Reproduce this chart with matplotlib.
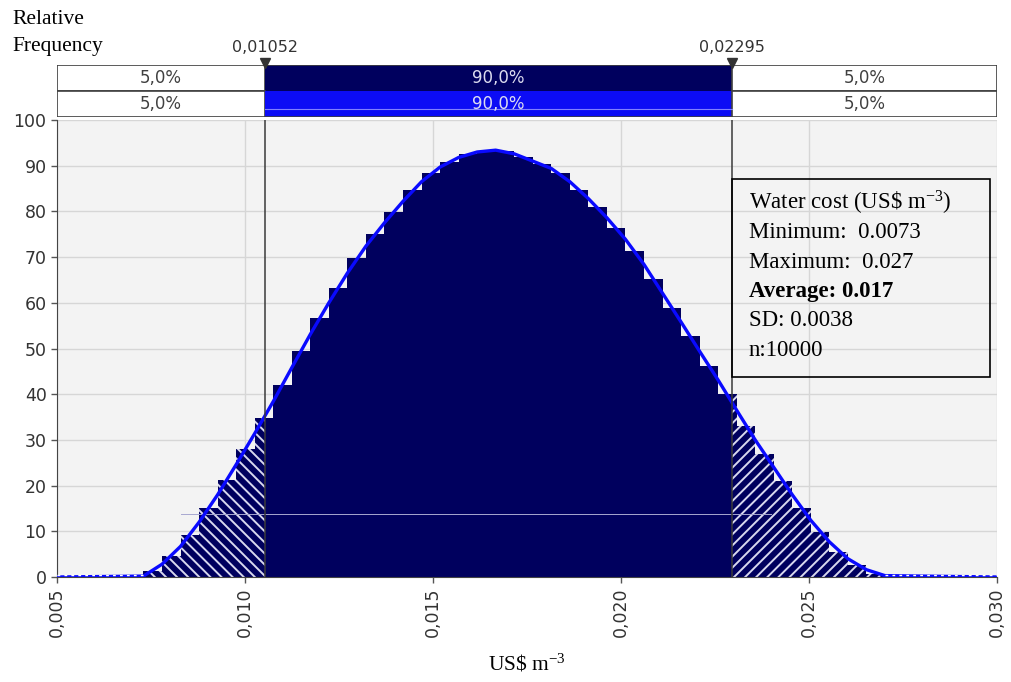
import numpy as np
import matplotlib
matplotlib.use("Agg")
import matplotlib.pyplot as plt
from matplotlib.patches import Rectangle

# histogram of simulated water cost, 40 bins
bin_start = 0.0073
bin_width = 0.000493
rel_freq = [1.3, 4.6, 9.1, 15.0, 21.2, 28.0, 34.8, 42.0, 49.5, 56.7,
            63.3, 69.7, 75.0, 79.8, 84.6, 88.4, 90.8, 92.5, 93.3, 93.2,
            91.8, 90.4, 88.4, 84.6, 80.9, 76.3, 71.4, 65.3, 58.9, 52.7,
            46.2, 40.0, 33.0, 27.0, 20.9, 15.0, 9.9, 5.5, 2.6, 0.7]

# fitted density, sampled at the bin edges
fit_edges = [0.2, 2.8, 6.7, 12.0, 18.0, 24.6, 31.4, 38.4, 45.8, 53.1,
             60.0, 66.5, 72.4, 77.5, 82.2, 86.5, 89.7, 91.8, 93.0, 93.4,
             92.6, 91.0, 89.4, 86.5, 82.8, 78.6, 73.9, 68.4, 62.1, 55.8,
             49.4, 43.1, 36.5, 30.0, 24.0, 18.0, 12.4, 7.7, 4.0, 1.6, 0.3]

x_min, x_max = 0.005, 0.030
p5, p95 = 0.01052, 0.02295
p5_label, p95_label = "0,01052", "0,02295"
band_text = ["5,0%", "90,0%", "5,0%"]
xticks = [0.005, 0.010, 0.015, 0.020, 0.025, 0.030]
xtick_labels = ["0,005", "0,010", "0,015", "0,020", "0,025", "0,030"]
yticks = list(range(0, 101, 10))
stats = ["Water cost (US\\$ m$^{-3}$)", "Minimum:  0.0073", "Maximum:  0.027",
         "Average: 0.017", "SD: 0.0038", "n:10000"]

navy = "#00005e"
tick_col = "#333333"
serif = "Liberation Serif"

plt.rcParams["hatch.linewidth"] = 1.4
plt.rcParams["mathtext.fontset"] = "custom"
plt.rcParams["mathtext.rm"] = serif
plt.rcParams["mathtext.it"] = serif + ":italic"
plt.rcParams["mathtext.bf"] = serif + ":bold"
plt.rcParams["mathtext.default"] = "rm"

W, H = 1011, 682
fig = plt.figure(figsize=(W / 100, H / 100), dpi=100)
ax = fig.add_axes([57 / W, 1 - 577 / H, 940 / W, 457 / H])
ax.set_facecolor("#f3f3f3")
ax.set_xlim(x_min, x_max)
ax.set_ylim(0, 100)

# bars, split at the 5% / 95% marks
edges = bin_start + bin_width * np.arange(len(rel_freq) + 1)
regions = [(x_min, p5, dict(color=navy, hatch="\\\\\\", edgecolor="#d8d8ee", linewidth=0)),
           (p5, p95, dict(color=navy, linewidth=0)),
           (p95, x_max, dict(color=navy, hatch="///", edgecolor="#d8d8ee", linewidth=0))]
for lo, hi, style in regions:
    for i, h in enumerate(rel_freq):
        left = max(edges[i], lo)
        right = min(edges[i + 1], hi)
        if right > left:
            ax.bar(left, h, width=right - left, align="edge", zorder=2, **style)

# fitted curve
cx = np.concatenate([[x_min], edges, [x_max]])
cy = np.concatenate([[0], fit_edges, [0]])
ax.plot(cx, cy, color="#0a0aff", lw=2.4, zorder=4, solid_capstyle="round")
for a, b in [(x_min, edges[0]), (edges[-1], x_max)]:
    ax.plot([a, b], [0.4, 0.4], color="white", lw=1, ls=(0, (2, 3)), zorder=5)

ax.plot([0.0083, 0.0240], [13.8, 13.8], color="#a8a8d0", lw=0.7, zorder=3)

# percentile lines
for xv in (p5, p95):
    ax.axvline(xv, color="#3a3a3a", lw=1.1, zorder=6)

ax.set_xticks(xticks)
ax.set_xticklabels(xtick_labels, rotation=90)
ax.set_yticks(yticks)
ax.tick_params(axis="both", colors="#555555", labelcolor=tick_col, labelsize=12.5,
               length=4, width=1)
ax.grid(True, color="#d6d6d6", lw=1, zorder=0)
ax.set_axisbelow(True)
for side in ("top", "right"):
    ax.spines[side].set_visible(False)
ax.spines["left"].set_color("#444444")
ax.spines["bottom"].set_color("#444444")

# stats box
ax.add_patch(Rectangle((732 / W, 1 - 377 / H), 258 / W, 198 / H, transform=fig.transFigure,
                       fill=False, edgecolor="black", lw=1.2, zorder=7))
for i, line in enumerate(stats):
    fig.text(749 / W, 1 - (203 + 29.5 * i) / H, line, family=serif, fontsize=16.5,
             va="center", ha="left", weight="bold" if i == 3 else "normal")

# percentage band above the plot
band = fig.add_axes([57 / W, 1 - 117 / H, 940 / W, 52 / H])
band.set_xlim(x_min, x_max)
band.set_ylim(0, 2)
band.axis("off")
rows = [(1, navy), (0, "#0c0cf5")]
for y0, mid_col in rows:
    band.add_patch(Rectangle((x_min, y0), p5 - x_min, 1, facecolor="white", edgecolor="#404040", lw=1.2))
    band.add_patch(Rectangle((p5, y0), p95 - p5, 1, facecolor=mid_col, edgecolor="none"))
    band.add_patch(Rectangle((p95, y0), x_max - p95, 1, facecolor="white", edgecolor="#404040", lw=1.2))
    centers = [(x_min + p5) / 2, (p5 + p95) / 2, (p95 + x_max) / 2]
    for j, (xc, txt) in enumerate(zip(centers, band_text)):
        band.text(xc, y0 + 0.5, txt, ha="center", va="center", fontsize=12,
                  color="#dcdcf0" if j == 1 else "#404040")
band.plot([p5, p95], [0.3, 0.3], color="#8080ff", lw=0.8)
band.plot([p5, p95], [2, 2], color="#404040", lw=1.2)
band.plot([p5, p95], [0, 0], color="#404040", lw=1.2)
for xv, lab in [(p5, p5_label), (p95, p95_label)]:
    band.plot([xv], [2.08], marker="v", color="#333333", ms=6.5, clip_on=False)
    band.text(xv, 2.4, lab, ha="center", va="bottom", fontsize=11.5, color=tick_col)

fig.text(12 / W, 1 - 20 / H, "Relative", family=serif, fontsize=15.5, va="center")
fig.text(12 / W, 1 - 46 / H, "Frequency", family=serif, fontsize=15.5, va="center")
fig.text(527 / W, 1 - 664 / H, "US\\$ m$^{-3}$", family=serif, fontsize=15.5,
         ha="center", va="center")

fig.savefig("out.png", dpi=100)
